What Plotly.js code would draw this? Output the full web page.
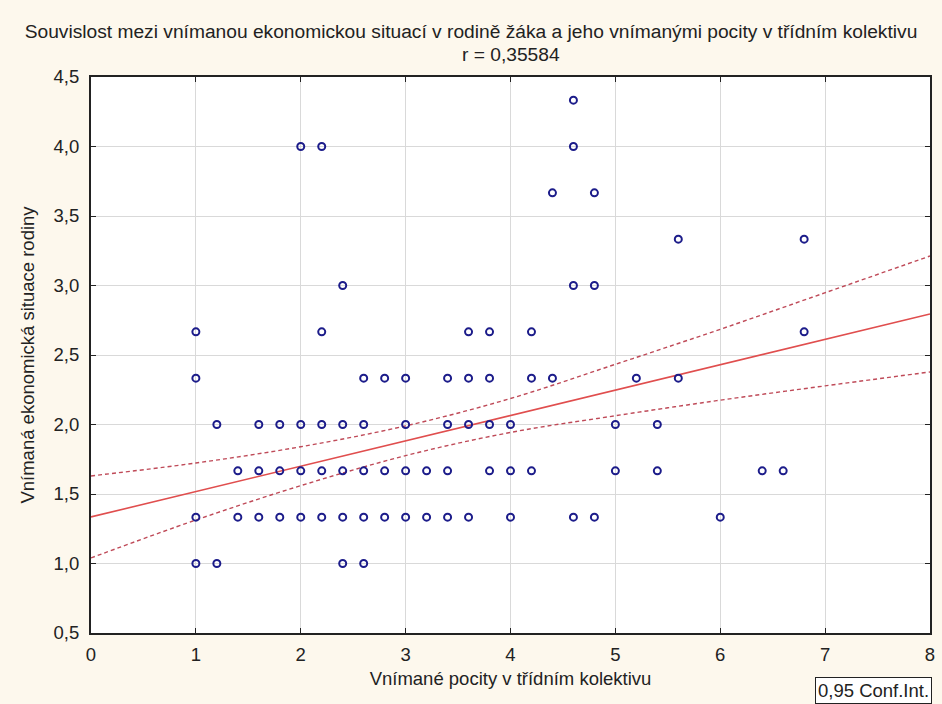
<!DOCTYPE html>
<html>
<head>
<meta charset="utf-8">
<script src="https://cdn.plot.ly/plotly-3.0.1.min.js"></script>
<style>html,body{margin:0;padding:0;background:#fdf8ed;}#chart{width:942px;height:704px;}</style>
</head>
<body>
<div id="chart"></div>
<script>
// Observed points (x = Vnímané pocity v třídním kolektivu, y = Vnímaná ekonomická situace rodiny)
const ptsX_y100 = [1.0, 1.2, 2.4, 2.6];
const ptsX_y133 = [1.0, 1.4, 1.6, 1.8, 2.0, 2.2, 2.4, 2.6, 2.8, 3.0, 3.2, 3.4, 3.6, 4.0, 4.6, 4.8, 6.0];
const ptsX_y167 = [1.4, 1.6, 1.8, 2.0, 2.2, 2.4, 2.6, 2.8, 3.0, 3.2, 3.4, 3.8, 4.0, 4.2, 5.0, 5.4, 6.4, 6.6];
const ptsX_y200 = [1.2, 1.6, 1.8, 2.0, 2.2, 2.4, 2.6, 3.0, 3.4, 3.6, 3.8, 4.0, 5.0, 5.4];
const ptsX_y233 = [1.0, 2.6, 2.8, 3.0, 3.4, 3.6, 3.8, 4.2, 4.4, 5.2, 5.6];
const ptsX_y267 = [1.0, 2.2, 3.6, 3.8, 4.2, 6.8];
const ptsX_y300 = [2.4, 4.6, 4.8];
const ptsX_y333 = [5.6, 6.8];
const ptsX_y367 = [4.4, 4.8];
const ptsX_y400 = [2.0, 2.2, 4.6];
const ptsX_y433 = [4.6];
const rowLevels = [1.0, 4/3, 5/3, 2.0, 7/3, 8/3, 3.0, 10/3, 11/3, 4.0, 13/3];
const rows = [ptsX_y100, ptsX_y133, ptsX_y167, ptsX_y200, ptsX_y233, ptsX_y267, ptsX_y300, ptsX_y333, ptsX_y367, ptsX_y400, ptsX_y433];

// Regression line and 0.95 confidence band
const bandX = [0, 1, 2, 3, 4, 5, 6, 7, 8];
const fitY = [1.335, 1.518, 1.700, 1.883, 2.065, 2.248, 2.430, 2.613, 2.795];
const upperY = [1.630, 1.723, 1.840, 1.990, 2.187, 2.433, 2.685, 2.948, 3.212];
const lowerY = [1.040, 1.313, 1.560, 1.776, 1.943, 2.063, 2.175, 2.278, 2.378];

const xTicks = [0, 1, 2, 3, 4, 5, 6, 7, 8];
const yTicks = [0.5, 1.0, 1.5, 2.0, 2.5, 3.0, 3.5, 4.0, 4.5];

const titleText = 'Souvislost mezi vnímanou ekonomickou situací v rodině žáka a jeho vnímanými pocity v třídním kolektivu';
const subtitleText = 'r = 0,35584';
const xTitle = 'Vnímané pocity v třídním kolektivu';
const yTitle = 'Vnímaná ekonomická situace rodiny';
const legendText = '0,95 Conf.Int.';

const px = [], py = [];
rows.forEach((r, i) => r.forEach(v => { px.push(v); py.push(rowLevels[i]); }));

const traces = [
  {x: bandX, y: upperY, mode: 'lines', line: {color: '#bf4a58', width: 1.4, dash: '4px,3px', shape: 'spline'}, hoverinfo: 'skip'},
  {x: bandX, y: lowerY, mode: 'lines', line: {color: '#bf4a58', width: 1.4, dash: '4px,3px', shape: 'spline'}, hoverinfo: 'skip'},
  {x: bandX, y: fitY, mode: 'lines', line: {color: '#e04e4e', width: 1.6}, hoverinfo: 'skip'},
  {x: px, y: py, mode: 'markers', marker: {symbol: 'circle-open', size: 7, color: '#1c1c8a', line: {width: 2, color: '#1c1c8a'}}}
];

const fontFam = 'Liberation Sans, Arial, sans-serif';
const txt = '#222222';
const layout = {
  width: 942, height: 704,
  paper_bgcolor: '#fdf8ed', plot_bgcolor: '#ffffff',
  separators: ',.',
  showlegend: false,
  margin: {l: 91, r: 12, t: 77, b: 71},
  font: {family: fontFam, color: txt},
  title: {text: titleText, x: 0.5, xanchor: 'center', yref: 'container', y: 1 - 31/704, yanchor: 'middle',
          font: {size: 19.2, family: fontFam, color: txt}},
  xaxis: {
    range: [0, 8], tickvals: xTicks, ticktext: xTicks.map(String),
    ticks: 'inside', ticklen: 5, tickcolor: '#222', mirror: 'allticks',
    showline: true, linecolor: '#222', linewidth: 2,
    showgrid: true, gridcolor: '#d9d9d9', gridwidth: 1, zeroline: false,
    tickfont: {size: 18.5, color: txt}, ticklabelstandoff: 4,
    title: {text: xTitle, font: {size: 18.5, color: txt}, standoff: 8}
  },
  yaxis: {
    range: [0.5, 4.5], tickvals: yTicks, tickformat: '.1f',
    ticks: 'inside', ticklen: 5, tickcolor: '#222', mirror: 'allticks',
    showline: true, linecolor: '#222', linewidth: 2,
    showgrid: true, gridcolor: '#d9d9d9', gridwidth: 1, zeroline: false,
    tickfont: {size: 18.5, color: txt}, ticklabelstandoff: 6,
    title: {text: yTitle, font: {size: 18.5, color: txt}, standoff: 14}
  },
  annotations: [
    {text: subtitleText, xref: 'paper', yref: 'paper', x: 0.5, y: 1 + (77 - 54) / 556, xanchor: 'center', yanchor: 'middle',
     showarrow: false, font: {size: 19.2, color: txt}},
    {text: legendText, xref: 'paper', yref: 'paper', x: (815 - 91) / 839, y: -(677 - 633) / 556, xanchor: 'left', yanchor: 'top',
     showarrow: false, font: {size: 18.5, color: txt}, bordercolor: '#222', borderwidth: 1, borderpad: 2, bgcolor: '#ffffff'}
  ]
};

Plotly.newPlot('chart', traces, layout, {displayModeBar: false, staticPlot: true});
</script>
</body>
</html>
